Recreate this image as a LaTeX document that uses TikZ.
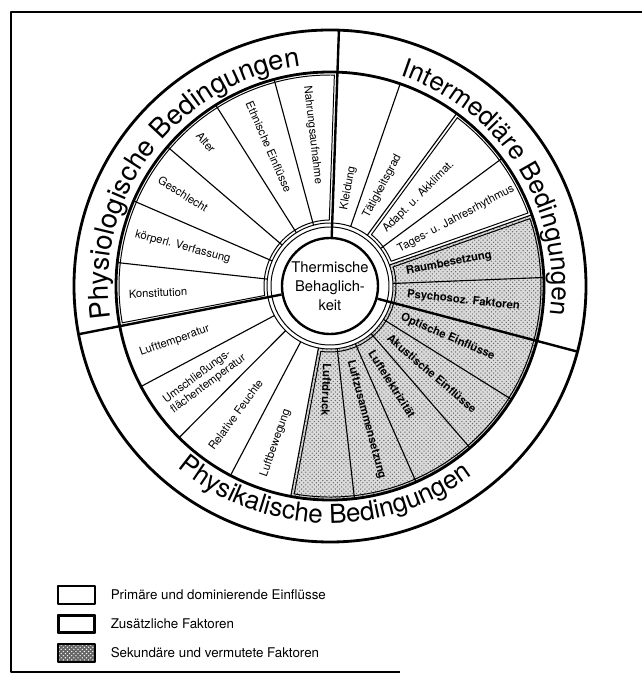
\documentclass[tikz,border=0pt]{standalone}
\usepackage{fontspec}
\setmainfont{TeX Gyre Heros}
\usetikzlibrary{positioning,decorations.text,patterns}
\newcommand\ringfont{\fontsize{18.5}{20}\selectfont}
\newcommand\bigringfont{\fontsize{19.5}{21}\selectfont}
\def\st{17.142857}
\tikzset{
  bound/.style={line width=1.7pt},
  spoke/.style={line width=.8pt},
  ringline/.style={line width=2pt},
  inset/.style={line width=.7pt},
  stipple/.style={preaction={fill=black!14},pattern=crosshatch dots,pattern color=black!60},
  lbl/.style={font=\fontsize{8}{9}\selectfont,inner sep=1pt,anchor=west,align=left},
  slbl/.style={lbl,font=\fontsize{8}{9}\selectfont\bfseries},
  legbox/.style={draw,line width=1.2pt,minimum width=.925cm,minimum height=.45cm,inner sep=0pt},
  legtxt/.style={font=\fontsize{9.5}{11}\selectfont,right=.25cm of #1},
  ringtext/.style={decorate,decoration={text along path,text align=center,text={#1}}}
}
\newcommand\insetsector[2]{%
  \draw[inset] ({#1+2.6}:66) -- ({#1+.81}:211) arc[start angle={#1+.81},end angle={#2-.81},radius=211]
    -- ({#2-2.6}:66) arc[start angle={#2-2.6},end angle={#1+2.6},radius=66] -- cycle;}
\begin{document}
\begin{tikzpicture}[x=.025cm,y=.025cm,line join=round]
\useasboundingbox (-330,-395) rectangle (312,286);
% rahmen
\draw[line width=1.1pt] (312,274) -- (-319,274) -- (-319,-386) -- (70,-386);
% sekundaere faktoren
\path[stipple] (259.43:63) -- (259.43:214) arc[start angle=259.43,end angle=379.43,radius=214]
  -- (379.43:63) arc[start angle=379.43,end angle=259.43,radius=63] -- cycle;
% kreise
\draw[ringline] (0,0) circle[radius=256] (0,0) circle[radius=214];
\draw[inset] (0,0) circle[radius=59] (0,0) circle[radius=63];
\node[circle,draw,line width=1.7pt,minimum size=2.4cm,inner sep=0pt,align=center,font=\fontsize{10.5}{13.5}\selectfont] (ctr) at (0,0) {Thermische\\Behaglich-\\keit};
% speichen
\foreach \k in {1,2,3,4,5,7,8,9,10,11,12,13,14,16,17,18,19,20}
  \draw[spoke] ({88+\st*\k}:63) -- ({88+\st*\k}:214);
\foreach \k in {0,6,15}
  \draw[bound] (ctr.{88+\st*\k}) -- ({88+\st*\k}:256);
\insetsector{88}{190.86}
\insetsector{259.43}{379.43}
\insetsector{379.43}{413.71}
% beschriftung
\foreach \k/\lab in {0/Nahrungsaufnahme,1/Ethnische Einflüsse,2/Alter,3/Geschlecht,4/körperl. Verfassung,5/Konstitution,6/Lufttemperatur,7/{Umschließungs-\\flächentemperatur},8/Relative Feuchte,9/Luftbewegung}
  \node[lbl,rotate={88+\st*(\k+.5)+180}] (f\k) at ({88+\st*(\k+.5)}:203) {\lab};
\foreach \k/\lab in {10/Luftdruck,11/Luftzusammensetzung,12/Luftelektrizität,13/Akustische Einflüsse,14/Optische Einflüsse,15/Psychosoz. Faktoren,16/Raumbesetzung}
  \node[slbl,rotate={88+\st*(\k+.5)}] (f\k) at ({88+\st*(\k+.5)}:76) {\lab};
\foreach \k/\lab in {17/Tages- u. Jahresrhythmus,18/Adapt. u. Akklimat.,19/Tätigkeitsgrad,20/Kleidung}
  \node[lbl,rotate={88+\st*(\k+.5)}] (f\k) at ({88+\st*(\k+.5)}:76) {\lab};
\path[ringtext=|\bigringfont|Physiologische Bedingungen] (192:222) arc[start angle=192,end angle=94,radius=222];
\path[ringtext=|\ringfont|Intermediäre Bedingungen] (84:222) arc[start angle=84,end angle=-20,radius=222];
\path[ringtext=|\ringfont|Physikalische Bedingungen] (200:237) arc[start angle=200,end angle=337,radius=237];
% legende
\node[legbox] (lgprim) at (-253.5,-309) {};
\node[legbox] (lgzus) at (-253.5,-338) {};
\draw[inset] ([shift={(2.5,-2.5)}]lgzus.north west) rectangle ([shift={(-2.5,2.5)}]lgzus.south east);
\node[legbox,preaction={fill=black!60},pattern=crosshatch dots,pattern color=white] (lgsek) at (-253.5,-367) {};
\node[legtxt=lgprim] (tprim) {Primäre und dominierende Einflüsse};
\node[legtxt=lgzus] (tzus) {Zusätzliche Faktoren};
\node[legtxt=lgsek] (tsek) {Sekundäre und vermutete Faktoren};
\end{tikzpicture}
\end{document}
